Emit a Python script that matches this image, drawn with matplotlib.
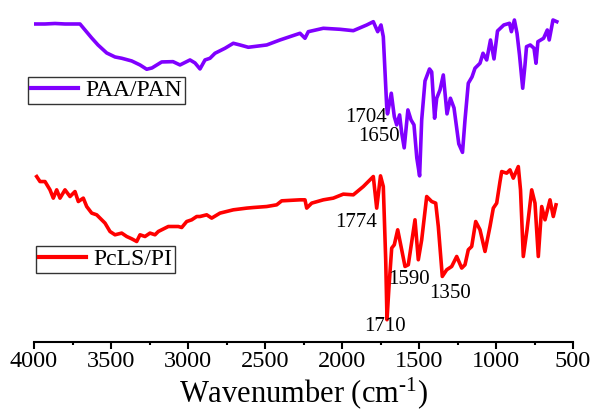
import matplotlib
matplotlib.use("Agg")
import matplotlib.pyplot as plt
from matplotlib.ticker import MultipleLocator
from matplotlib.lines import Line2D

plt.rcParams['font.family'] = ['Liberation Serif', 'DejaVu Serif']
plt.rcParams['mathtext.fontset'] = 'custom'
plt.rcParams['mathtext.rm'] = 'Liberation Serif'
plt.rcParams['mathtext.it'] = 'Liberation Serif:italic'

# PAA/PAN spectrum (wavenumber, transmittance a.u.)
paa_wn = [3993.5, 3928.6, 3863.6, 3798.7, 3733.8, 3701.3, 3668.8, 3625.3, 3584.4, 3527.9,
          3474.0, 3430.5, 3365.6, 3311.7, 3268.2, 3233.8, 3170.8, 3097.4, 3051.9, 2987.0,
          2954.5, 2922.1, 2889.6, 2857.1, 2824.7, 2759.7, 2705.8, 2662.3, 2608.4, 2488.9,
          2402.6, 2272.7, 2240.3, 2218.8, 2121.4, 2013.0, 1926.6, 1839.6, 1796.7, 1768.2,
          1746.8, 1731.8, 1709.7, 1704.5, 1679.9, 1660.4, 1644.8, 1626.0, 1612.3, 1596.1,
          1572.1, 1551.9, 1532.5, 1514.3, 1496.1, 1482.5, 1461.0, 1431.8, 1417.5, 1398.7,
          1385.1, 1363.6, 1342.2, 1318.2, 1296.1, 1272.7, 1241.6, 1217.5, 1201.3, 1179.9,
          1155.8, 1136.4, 1103.9, 1084.4, 1060.4, 1035.7, 1013.0, 990.3, 949.4, 912.3,
          900.0, 880.5, 863.6, 847.4, 826.6, 811.7, 801.9, 777.3, 753.2, 740.3,
          727.9, 690.9, 666.9, 654.5, 629.9, 605.2]
paa_t = [318, 318, 318.5, 318, 318, 318, 312, 304, 297, 289,
         285, 283.7, 281, 277, 272.7, 274, 280, 280.3, 277, 282,
         279, 273, 282, 283.7, 288.7, 293.7, 298.7, 297, 294.7, 297,
         302, 308.7, 303.7, 310.3, 313.7, 312.7, 311.3, 317, 320.3, 310.3,
         317, 305.3, 235.3, 228, 248.7, 225.3, 217, 227, 209, 194,
         232, 222, 217, 184, 166, 222, 261, 273, 270, 223.7,
         243.7, 252, 267, 228, 243.7, 234, 198, 189.5, 222, 258.7,
         265, 273.7, 278.7, 288.7, 282, 302, 283, 311, 317, 318.7,
         310.3, 322, 308.7, 287, 253.7, 277, 295.3, 297, 293.7, 278.7,
         300.3, 303.7, 312, 302, 322, 320.3]

# PcLS/PI spectrum
pcls_wn = [3982.5, 3961.0, 3928.6, 3896.1, 3874.7, 3852.6, 3831.2, 3798.7, 3766.2, 3733.8,
           3712.3, 3679.9, 3657.8, 3625.3, 3592.9, 3538.9, 3506.5, 3474.0, 3430.5, 3398.1,
           3365.6, 3333.1, 3311.7, 3279.2, 3246.8, 3214.3, 3192.9, 3127.9, 3063.0, 3040.9,
           3008.4, 2975.9, 2943.5, 2922.1, 2878.6, 2846.1, 2792.2, 2705.8, 2618.8, 2576.0,
           2488.9, 2424.0, 2391.6, 2272.7, 2240.3, 2229.2, 2196.8, 2121.4, 2056.5, 1991.6,
           1926.6, 1861.7, 1796.7, 1774.7, 1750.0, 1731.8, 1716.2, 1707.8, 1694.8, 1677.3,
           1660.4, 1638.3, 1612.3, 1590.9, 1569.5, 1526.0, 1504.5, 1482.5, 1450.0, 1417.5,
           1391.5, 1374.6, 1348.7, 1320.1, 1287.7, 1255.2, 1222.7, 1201.3, 1179.9, 1157.8,
           1131.8, 1103.9, 1071.4, 1039.0, 1017.5, 995.5, 974.0, 963.0, 930.5, 909.1,
           887.7, 855.2, 840.9, 822.7, 798.7, 768.2, 746.8, 725.3, 703.2, 681.8,
           649.4, 628.0, 610.4]
pcls_t = [165.3, 160.3, 160.3, 152, 143.7, 152, 143.7, 152, 145.3, 150.3,
          140.3, 143.7, 135.3, 128.7, 127, 118.7, 110.3, 107, 108.7, 105.3,
          103, 100.3, 107, 105.3, 108.7, 107, 110.3, 115.3, 115.3, 114.3,
          120.3, 122, 125.3, 125.3, 127, 123.7, 128.7, 132, 133.7, 134.3,
          135.3, 137, 141, 142, 142, 133.7, 138.7, 142, 143.7, 147.7,
          147, 155.3, 165.3, 133.7, 166, 155.3, 82, 22, 55.3, 93.7,
          97, 112, 92, 75.3, 77, 122, 82, 102, 145.3, 140.3,
          138.7, 115.3, 65.3, 72, 75.3, 85.3, 73.7, 77, 92, 95.3,
          120.3, 112, 90.3, 115.3, 133.7, 138.7, 160.3, 170.3, 168.7, 172,
          163.7, 175.3, 152, 85.3, 112, 152, 138.7, 85.3, 135.3, 122,
          142, 125.3, 137]

peak_labels = ["1704", "1650", "1774", "1590", "1350", "1710"]
peak_label_x = [1844, 1760, 1909, 1565, 1299, 1721]
peak_label_y = [224, 205, 119, 62, 48, 15]

series_names = ["PAA/PAN", "PcLS/PI"]
colors = ["#8000FF", "#FF0000"]

fig = plt.figure(figsize=(5.94, 4.18), dpi=100)
ax = fig.add_axes([34 / 594, 1 - 341.7 / 418, (573 - 34) / 594, (341.7 - 10) / 418])

ax.plot(paa_wn, paa_t, color=colors[0], lw=2.6, solid_joinstyle='round')
ax.plot(pcls_wn, pcls_t, color=colors[1], lw=2.6, solid_joinstyle='round')

for txt, x, y in zip(peak_labels, peak_label_x, peak_label_y):
    ax.text(x, y, txt, fontsize=15, ha='center', va='center')

ax.set_xlim(4000, 500)
ax.set_ylim(0, 332)
for s in ['top', 'left', 'right']:
    ax.spines[s].set_visible(False)
ax.spines['bottom'].set_linewidth(1.5)
ax.set_yticks([])
ax.xaxis.set_major_locator(MultipleLocator(500))
ax.xaxis.set_minor_locator(MultipleLocator(250))
ax.tick_params(axis='x', which='major', direction='out', length=5, width=1.5,
               labelsize=17.5, pad=2)
ax.tick_params(axis='x', which='minor', direction='out', length=2.5, width=1.5)
ax.set_xlabel("Wavenumber (cm$^{\\mathrm{\u2010}1}$)", fontsize=22, labelpad=2)

leg_kw = dict(loc='upper left', fontsize=17, frameon=True, fancybox=False,
              edgecolor='black', borderpad=0.12, handletextpad=0.3,
              handlelength=2.0, borderaxespad=0, bbox_transform=fig.transFigure)
leg1 = ax.legend([Line2D([], [], color=colors[0], lw=3)], [series_names[0]],
                 bbox_to_anchor=(28 / 594, 1 - 77 / 418), **leg_kw)
leg1.get_frame().set_linewidth(1.0)
ax.add_artist(leg1)
leg2 = ax.legend([Line2D([], [], color=colors[1], lw=3)], [series_names[1]],
                 bbox_to_anchor=(36 / 594, 1 - 246 / 418), **leg_kw)
leg2.get_frame().set_linewidth(1.0)

fig.savefig("out.png", dpi=100)
